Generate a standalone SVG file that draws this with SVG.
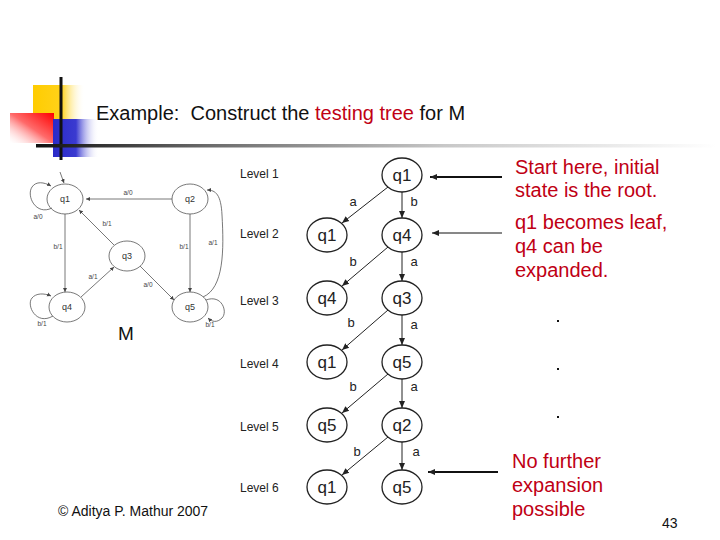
<svg xmlns="http://www.w3.org/2000/svg" width="720" height="540" viewBox="0 0 720 540">
<defs>
  <linearGradient id="gY" x1="0" y1="0" x2="1" y2="0">
    <stop offset="0" stop-color="#ffcc00"/>
    <stop offset="0.55" stop-color="#ffd21a"/>
    <stop offset="1" stop-color="#ffffff" stop-opacity="0"/>
  </linearGradient>
  <linearGradient id="gR" x1="1" y1="0" x2="0" y2="1">
    <stop offset="0" stop-color="#ff0000"/>
    <stop offset="0.5" stop-color="#ff6a6a"/>
    <stop offset="1" stop-color="#ffffff" stop-opacity="0.2"/>
  </linearGradient>
  <linearGradient id="gB" x1="0" y1="0" x2="1" y2="0">
    <stop offset="0" stop-color="#2a2ac8"/>
    <stop offset="0.5" stop-color="#3a3ad0"/>
    <stop offset="1" stop-color="#ffffff" stop-opacity="0"/>
  </linearGradient>
  <linearGradient id="gL" x1="0" y1="0" x2="1" y2="0">
    <stop offset="0" stop-color="#111111"/>
    <stop offset="0.25" stop-color="#6a6a6a"/>
    <stop offset="0.6" stop-color="#c8c8c8"/>
    <stop offset="1" stop-color="#ffffff"/>
  </linearGradient>
  <marker id="ah" markerWidth="8" markerHeight="8" refX="7" refY="4" orient="auto" markerUnits="userSpaceOnUse">
    <path d="M0,1 L7,4 L0,7 Z" fill="#222"/>
  </marker>
  <marker id="ahs" markerWidth="5" markerHeight="5" refX="4" refY="2.5" orient="auto" markerUnits="userSpaceOnUse">
    <path d="M0,0.5 L4,2.5 L0,4.5 Z" fill="#444"/>
  </marker>
  <style>
    .t { font-family: "Liberation Sans", Arial, sans-serif; }
    .red { fill: #c00014; }
    .node ellipse { fill: #fff; stroke: #222; stroke-width: 1.3; }
    .node text { font-family: "Liberation Sans", Arial, sans-serif; font-size: 17px; text-anchor: middle; fill: #222; }
    .lvl { font-family: "Liberation Sans", Arial, sans-serif; font-size: 12px; fill: #222; }
    .el { font-family: "Liberation Sans", Arial, sans-serif; font-size: 13px; fill: #222; text-anchor: middle; }
    .edge { stroke: #222; stroke-width: 1; fill: none; marker-end: url(#ah); }
    .m ellipse { fill: #fff; stroke: #555; stroke-width: 0.8; }
    .m text { font-family: "Liberation Sans", Arial, sans-serif; font-size: 9px; text-anchor: middle; fill: #333; }
    .medge { stroke: #555; stroke-width: 0.8; fill: none; marker-end: url(#ahs); }
    .ml { font-family: "Liberation Sans", Arial, sans-serif; font-size: 6.5px; fill: #444; text-anchor: middle; }
  </style>
</defs>
<rect width="720" height="540" fill="#ffffff"/>

<!-- logo -->
<g id="logo">
  <rect x="33" y="85" width="52" height="35" fill="url(#gY)"/>
  <rect x="10" y="113" width="44" height="30" fill="url(#gR)"/>
  <rect x="53" y="119" width="46" height="38" fill="url(#gB)"/>
  <rect x="59.5" y="77" width="3" height="83" fill="#111"/>
  <rect x="36" y="144" width="680" height="3.5" fill="url(#gL)"/>
</g>

<text class="t" x="96" y="120" font-size="20" fill="#111" xml:space="preserve">Example:  Construct the <tspan class="red">testing tree</tspan> for M</text>

<!-- small FSM M -->
<g id="M">
  <g class="m" id="m-q1"><ellipse cx="65" cy="199" rx="18" ry="15"/><text x="65" y="202">q1</text></g>
  <g class="m" id="m-q2"><ellipse cx="190" cy="199" rx="18" ry="15"/><text x="190" y="202">q2</text></g>
  <g class="m" id="m-q3"><ellipse cx="127" cy="256" rx="18" ry="15"/><text x="127" y="259">q3</text></g>
  <g class="m" id="m-q4"><ellipse cx="67" cy="307" rx="18" ry="15"/><text x="67" y="310">q4</text></g>
  <g class="m" id="m-q5"><ellipse cx="190" cy="307" rx="18" ry="15"/><text x="190" y="310">q5</text></g>
  <g id="m-edges">
    <path class="medge" d="M60,172 L64,183"/>
    <path class="medge" d="M52,208 C36,216 26,196 32,187 C36,181 44,182 51,186"/>
    <path class="medge" d="M172,199 L86,199" stroke="#aaa"/>
    <path class="medge" d="M65,214 L65,292"/>
    <path class="medge" d="M114,245 L79,210"/>
    <path class="medge" d="M81,297 L114,267"/>
    <path class="medge" d="M140,266 L174,300"/>
    <path class="medge" d="M190,214 L190,292"/>
    <path class="medge" d="M203,297 C224,288 224,250 222,215 C221,195 216,190 207,190"/>
    <path class="medge" d="M53,316 C36,326 26,305 32,298 C36,293 44,293 51,296"/>
    <path class="medge" d="M206,300 C222,294 228,312 222,318 C217,323 212,322 208,318"/>
    <text class="ml" x="128" y="195">a/0</text>
    <text class="ml" x="38" y="219">a/0</text>
    <text class="ml" x="58" y="249">b/1</text>
    <text class="ml" x="107" y="226">b/1</text>
    <text class="ml" x="93" y="279">a/1</text>
    <text class="ml" x="148" y="287">a/0</text>
    <text class="ml" x="184" y="249">b/1</text>
    <text class="ml" x="213" y="245">a/1</text>
    <text class="ml" x="42" y="326">b/1</text>
    <text class="ml" x="210" y="327">b/1</text>
  </g>
  <text class="t" x="126" y="340" font-size="19" text-anchor="middle" fill="#111">M</text>
</g>

<!-- level labels -->
<g id="levels">
  <text class="lvl" x="240" y="178">Level 1</text>
  <text class="lvl" x="240" y="238">Level 2</text>
  <text class="lvl" x="240" y="305">Level 3</text>
  <text class="lvl" x="240" y="368">Level 4</text>
  <text class="lvl" x="240" y="431">Level 5</text>
  <text class="lvl" x="240" y="492">Level 6</text>
</g>

<!-- tree connectors -->
<g id="connectors">
  <line class="edge" x1="388" y1="187" x2="342" y2="223"/>
  <line class="edge" x1="402" y1="192" x2="402" y2="218"/>
  <line class="edge" x1="388" y1="247" x2="342" y2="286"/>
  <line class="edge" x1="402" y1="252" x2="402" y2="281"/>
  <line class="edge" x1="388" y1="310" x2="342" y2="350"/>
  <line class="edge" x1="402" y1="315" x2="402" y2="345"/>
  <line class="edge" x1="388" y1="374" x2="342" y2="413"/>
  <line class="edge" x1="402" y1="379" x2="402" y2="408"/>
  <line class="edge" x1="388" y1="437" x2="342" y2="475"/>
  <line class="edge" x1="402" y1="442" x2="402" y2="470"/>
  <text class="el" x="353" y="206">a</text>
  <text class="el" x="414" y="206">b</text>
  <text class="el" x="353" y="266">b</text>
  <text class="el" x="414" y="266">a</text>
  <text class="el" x="351" y="327">b</text>
  <text class="el" x="414" y="329">a</text>
  <text class="el" x="353" y="391">b</text>
  <text class="el" x="414" y="391">a</text>
  <text class="el" x="357" y="456">b</text>
  <text class="el" x="416" y="456">a</text>
  <line x1="502" y1="177" x2="430" y2="177" stroke="#111" stroke-width="2" marker-end="url(#ah)"/>
  <line x1="502" y1="233" x2="432" y2="233" stroke="#111" stroke-width="1" marker-end="url(#ah)"/>
  <line x1="498" y1="472" x2="428" y2="472" stroke="#111" stroke-width="2" marker-end="url(#ah)"/>
</g>

<!-- tree nodes -->
<g class="node" id="n1"><ellipse cx="402" cy="175" rx="20" ry="17"/><text x="402" y="181">q1</text></g>
<g class="node" id="n2"><ellipse cx="327" cy="235" rx="20" ry="17"/><text x="327" y="241">q1</text></g>
<g class="node" id="n3"><ellipse cx="402" cy="235" rx="20" ry="17"/><text x="402" y="241">q4</text></g>
<g class="node" id="n4"><ellipse cx="327" cy="298" rx="20" ry="17"/><text x="327" y="304">q4</text></g>
<g class="node" id="n5"><ellipse cx="402" cy="298" rx="20" ry="17"/><text x="402" y="304">q3</text></g>
<g class="node" id="n6"><ellipse cx="327" cy="362" rx="20" ry="17"/><text x="327" y="368">q1</text></g>
<g class="node" id="n7"><ellipse cx="402" cy="362" rx="20" ry="17"/><text x="402" y="368">q5</text></g>
<g class="node" id="n8"><ellipse cx="327" cy="425" rx="20" ry="17"/><text x="327" y="431">q5</text></g>
<g class="node" id="n9"><ellipse cx="402" cy="425" rx="20" ry="17"/><text x="402" y="431">q2</text></g>
<g class="node" id="n10"><ellipse cx="327" cy="487" rx="20" ry="17"/><text x="327" y="493">q1</text></g>
<g class="node" id="n11"><ellipse cx="402" cy="487" rx="20" ry="17"/><text x="402" y="493">q5</text></g>

<!-- annotations -->
<g id="notes" class="t red" font-size="20">
  <text x="515" y="174">Start here, initial</text>
  <text x="515" y="197">state is the root.</text>
  <text x="515" y="229">q1 becomes leaf,</text>
  <text x="515" y="253">q4 can be</text>
  <text x="515" y="277">expanded.</text>
  <text x="512" y="468">No further</text>
  <text x="512" y="492">expansion</text>
  <text x="512" y="516">possible</text>
</g>
<g id="dots" fill="#111">
  <rect x="557" y="320" width="2" height="2"/>
  <rect x="557" y="368" width="2" height="2"/>
  <rect x="557" y="416" width="2" height="2"/>
</g>

<text class="t" x="58" y="516" font-size="14" fill="#111">© Aditya P. Mathur 2007</text>
<text class="t" x="662" y="528" font-size="14" fill="#111">43</text>
</svg>
